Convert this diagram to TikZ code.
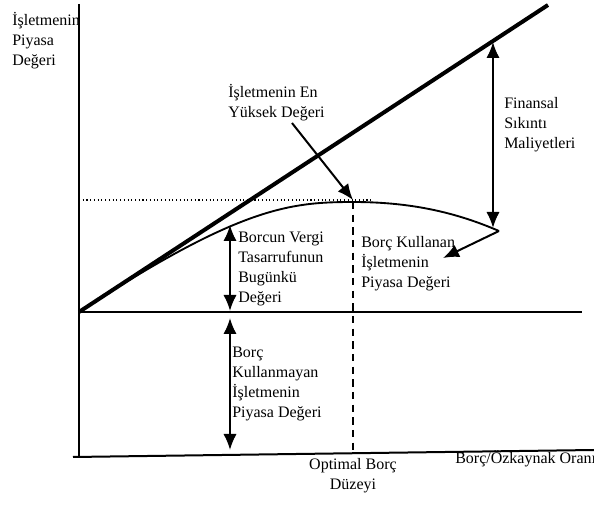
\documentclass[tikz,border=0pt]{standalone}
\usepackage{fontspec}
\setmainfont{Liberation Serif}
\usetikzlibrary{arrows.meta, positioning}
\newcommand{\txtfont}{\fontsize{12}{15}\selectfont}
\tikzstyle{axis}=[line width=1.5pt]
\tikzstyle{valueline}=[line width=3pt]
\tikzstyle{curve}=[line width=1.4pt]
\tikzstyle{guide}=[line width=0.8pt, dotted]
\tikzstyle{optline}=[line width=2.2pt, dash pattern=on 5.5pt off 4pt]
\tikzstyle{dblarrow}=[line width=1.5pt, {Latex[length=12pt,width=10pt]}-{Latex[length=12pt,width=10pt]}]
\tikzstyle{pointer}=[line width=1.5pt, -{Latex[length=12pt,width=10pt]}]
\tikzstyle{txt}=[anchor=north west, inner sep=0pt, align=left, font=\txtfont]

\begin{document}
\begin{tikzpicture}[x=0.75pt,y=-0.75pt]
    \useasboundingbox (0,0) rectangle (594,506);

    % axes
    \coordinate (ytop) at (79,4);
    \coordinate (ybot) at (79,457);
    \coordinate (xleft) at (73,457);
    \coordinate (xright) at (594,450);
    \draw[axis] (ytop) -- (ybot);
    \draw[axis] (xleft) -- (xright);

    % unlevered value and levered value lines
    \coordinate (o) at (79,312);
    \coordinate (hend) at (582,312);
    \coordinate (ltip) at (548,5);
    \draw[axis] (o) -- (hend);
    \draw[valueline] (o) -- (ltip);

    \coordinate (peak) at (353,202);
    \coordinate (cend) at (499,231);
    \draw[curve] (o) .. controls (239,207.2) and (290,202) .. (peak)
        .. controls (410,202) and (455,212) .. (cend);

    \coordinate (dotl) at (79,200);
    \coordinate (dotr) at (372,200);
    \draw[guide] (dotl) -- (dotr);
    \coordinate (optx) at (353,453);
    \draw[optline] (peak) -- (optx);

    % arrows
    \coordinate (peaksrc) at (292,123);
    \coordinate (peaktip) at (353,200);
    \draw[pointer] (peaksrc) -- (peaktip);
    \coordinate (fin1) at (493,42);
    \coordinate (fin2) at (493,228);
    \draw[dblarrow] (fin1) -- (fin2);
    \coordinate (levtip) at (443,258);
    \draw[pointer] (cend) -- (levtip);
    \coordinate (tax1) at (230,225);
    \coordinate (tax2) at (230,311);
    \draw[dblarrow] (tax1) -- (tax2);
    \coordinate (unl1) at (230,318);
    \coordinate (unl2) at (230,450);
    \draw[dblarrow] (unl1) -- (unl2);

    % texts
    \node[txt] (ylab) at (12,11.4) {\strut İşletmenin\\Piyasa\\Değeri};
    \node[txt] (peaklab) at (228,83.4) {\strut İşletmenin En\\Yüksek Değeri};
    \node[txt] (finlab) at (504,94.4) {\strut Finansal\\Sıkıntı\\Maliyetleri};
    \node[txt] (levlab) at (361,233.4) {\strut Borç Kullanan\\İşletmenin\\Piyasa Değeri};
    \node[txt] (taxlab) at (238,228.4) {\strut Borcun Vergi\\Tasarrufunun\\Bugünkü\\Değeri};
    \node[txt] (unllab) at (232,343.4) {\strut Borç\\Kullanmayan\\İşletmenin\\Piyasa Değeri};
    \node[txt, anchor=north, align=center, below=1.5pt of optx] (optlab) {\strut Optimal Borç\\Düzeyi};
    \node[txt] (ratiolab) at (455,449.4) {\strut Borç/Özkaynak Oranı};
\end{tikzpicture}
\end{document}
